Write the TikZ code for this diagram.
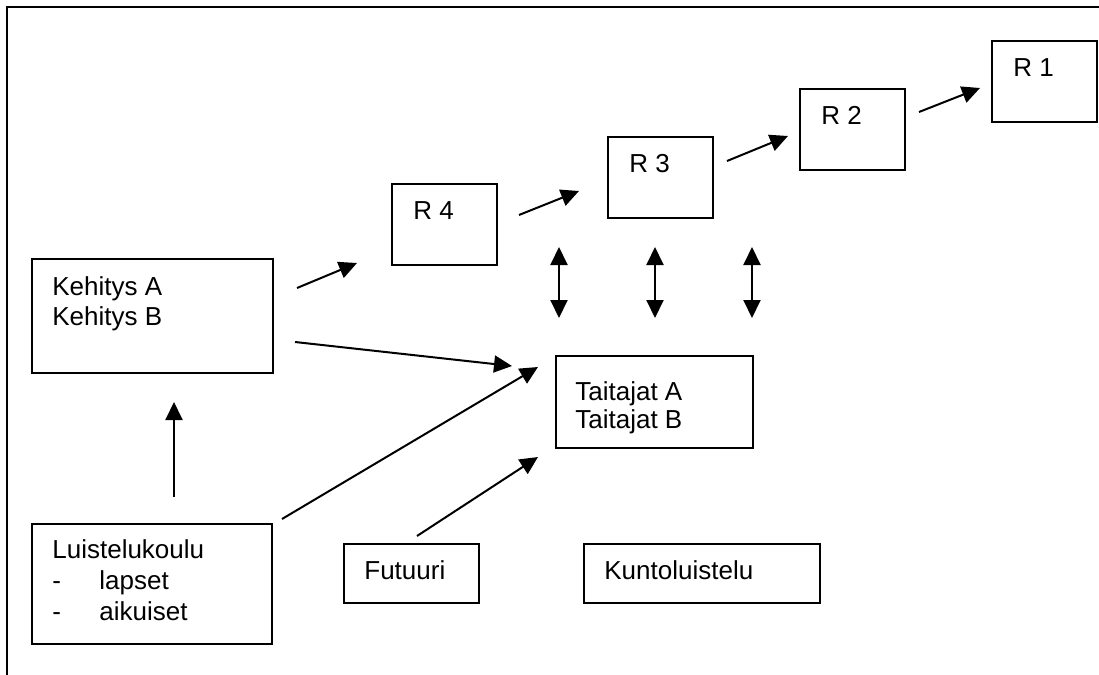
\documentclass[tikz,border=0pt]{standalone}
\usepackage{fontspec}
\setmainfont{Liberation Sans}
\usetikzlibrary{arrows.meta,positioning}

\tikzset{
  box/.style={draw, line width=1pt, anchor=north west, inner sep=0pt},
  rbox/.style={box, minimum width=52.5pt, minimum height=40.5pt},
  lbl/.style={anchor=base west, inner sep=0pt, align=left, font=\fontsize{13}{15}\selectfont},
  arr/.style={line width=1pt, -{Triangle[length=9pt,width=8.5pt]}},
  dblarr/.style={line width=1pt, {Triangle[length=9pt,width=8.5pt]}-{Triangle[length=9pt,width=8.5pt]}},
}

\begin{document}
\begin{tikzpicture}[x=0.5pt,y=-0.5pt]
\useasboundingbox (0,0) rectangle (1099,675);

% frame
\draw[line width=1.35pt] (1099,7) -- (7,7) -- (7,675);

% R boxes
\def\rlist{1/991/40,2/799/88,3/607/136,4/391/183}
\foreach \i / \x / \y in \rlist {
  \node[rbox] (r\i) at (\x,\y) {};
  \node[lbl] (r\i t) at ([shift={(22,36)}]r\i.north west) {R \i};
}

% other boxes (base of a label = its last line)
\node[box, minimum width=120.5pt, minimum height=57pt] (keh) at (31,258) {};
\node[lbl] (keht) at ([shift={(21,67)}]keh.north west) {Kehitys A\\Kehitys B};

\node[box, minimum width=98.5pt, minimum height=46pt] (tai) at (555,355) {};
\node[lbl, font=\fontsize{13}{14}\selectfont] (tait) at ([shift={(20,73)}]tai.north west) {Taitajat A\\Taitajat B};

\node[box, minimum width=120pt, minimum height=60pt] (lui) at (31,523) {};
\node[lbl, font=\fontsize{13}{15.5}\selectfont] (luit) at ([shift={(21,97)}]lui.north west)
  {Luistelukoulu\\\makebox[23.5pt][l]{-}lapset\\\makebox[23.5pt][l]{-}aikuiset};

\node[box, minimum width=67.5pt, minimum height=29.5pt] (fut) at (343,543) {};
\node[lbl] (futt) at ([shift={(21,36)}]fut.north west) {Futuuri};

\node[box, minimum width=118pt, minimum height=29.5pt] (kun) at (583,543) {};
\node[lbl] (kunt) at ([shift={(21,36)}]kun.north west) {Kuntoluistelu};

% arrow ends
\coordinate (keh-r4) at (297,288);   \coordinate (r4-in) at (357,263);
\coordinate (r4-r3) at (519,215);    \coordinate (r3-in) at (579,191);
\coordinate (r3-r2) at (727,161);    \coordinate (r2-in) at (788,136);
\coordinate (r2-r1) at (919,112);    \coordinate (r1-in) at (980,88);
\coordinate (keh-tai) at (295,342);  \coordinate (tai-in1) at (512,366);
\coordinate (lui-tai) at (282,519);  \coordinate (tai-in2) at (538,367);
\coordinate (lui-keh) at (174,497);  \coordinate (keh-in) at (174,402);
\coordinate (fut-tai) at (417,536);  \coordinate (tai-in3) at (538,457);

\draw[arr] (keh-r4) -- (r4-in);
\draw[arr] (r4-r3) -- (r3-in);
\draw[arr] (r3-r2) -- (r2-in);
\draw[arr] (r2-r1) -- (r1-in);
\draw[arr] (keh-tai) -- (tai-in1);
\draw[arr] (lui-tai) -- (tai-in2);
\draw[arr] (lui-keh) -- (keh-in);
\draw[arr] (fut-tai) -- (tai-in3);

% links between R row and Taitajat
\foreach \i / \x in {1/559,2/655,3/752} {
  \coordinate (up\i) at (\x,247);
  \coordinate (dn\i) at (\x,318);
  \draw[dblarr] (up\i) -- (dn\i);
}

\end{tikzpicture}
\end{document}
